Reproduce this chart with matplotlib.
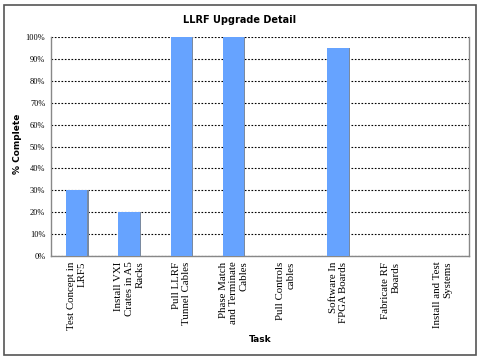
import matplotlib
matplotlib.use("Agg")
import matplotlib.pyplot as plt
from matplotlib.patches import Rectangle

# task names and completion
tasks = ["Test Concept in\nLRF5", "Install VXI\nCrates in A5\nRacks", "Pull LLRF\nTunnel Cables",
         "Phase Match\nand Terminate\nCables", "Pull Controls\ncables", "Software In\nFPGA Boards",
         "Fabricate RF\nBoards", "Install and Test\nSystems"]
complete = [30, 20, 100, 100, 0, 95, 0, 0]
yticks = [0, 10, 20, 30, 40, 50, 60, 70, 80, 90, 100]

fig = plt.figure(figsize=(4.8, 3.6), dpi=100)
ax = fig.add_axes([0.106, 0.289, 0.871, 0.608])

# outer border of the chart
fig.patches.append(Rectangle((4 / 480, 5 / 360), 472 / 480, 350 / 360, transform=fig.transFigure,
                             fill=False, edgecolor="#555555", linewidth=1.2))

x = range(len(tasks))
ax.bar(x, complete, width=0.42, color="#66a3ff", edgecolor="none", zorder=3)
# thin shadow on the right edge of each bar
ax.bar([i + 0.21 for i in x], complete, width=0.02, color="#7a8aa0", edgecolor="none", zorder=3)

ax.set_xlim(-0.5, len(tasks) - 0.5)
ax.set_ylim(0, 100)
ax.set_yticks(yticks)
ax.set_yticklabels([f"{v}%" for v in yticks], family="Liberation Serif", fontsize=6)
ax.yaxis.grid(True, linestyle=(0, (1.5, 1.5)), color="black", linewidth=0.8, zorder=1)
ax.set_xticks(list(x))
ax.set_xticklabels(tasks, rotation=90, family="Liberation Serif", fontsize=7.8,
                   multialignment="right", va="top", ha="center")
ax.tick_params(length=0, pad=4)

for s in ["left", "bottom", "right"]:
    ax.spines[s].set_color("#888888")
    ax.spines[s].set_linewidth(1)
ax.spines["top"].set_visible(False)

fig.text(0.5, 0.944, "LLRF Upgrade Detail", ha="center", va="center",
         fontsize=7, fontweight="bold", family="DejaVu Sans")
fig.text(0.037, 0.6, "% Complete", rotation=90, ha="center", va="center",
         fontsize=6.5, fontweight="bold", family="DejaVu Sans")
fig.text(0.542, 0.058, "Task", ha="center", va="center",
         fontsize=6.5, fontweight="bold", family="DejaVu Sans")

fig.savefig("out.png", dpi=100)
